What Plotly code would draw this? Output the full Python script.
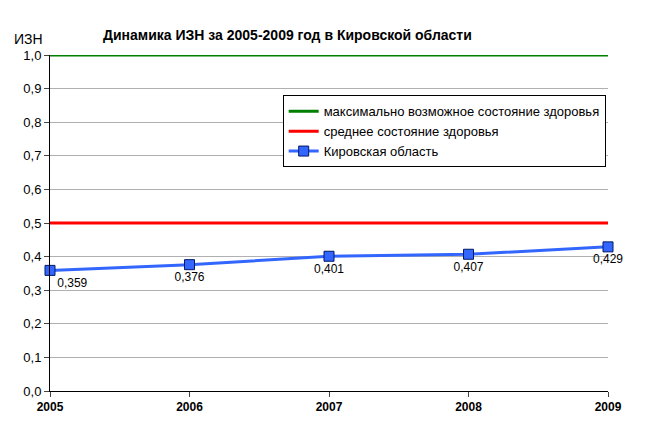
import plotly.graph_objects as go

years = [2005, 2006, 2007, 2008, 2009]
values = [0.359, 0.376, 0.401, 0.407, 0.429]
labels = ["0,359", "0,376", "0,401", "0,407", "0,429"]
label_pos = ["bottom right", "bottom center", "bottom center", "bottom center", "bottom center"]
max_level = [1.0] * 5
avg_level = [0.5] * 5
yticks = [i / 10 for i in range(11)]
yticklabels = [f"{v:.1f}".replace(".", ",") for v in yticks]

fig = go.Figure()
fig.add_trace(go.Scatter(x=years, y=max_level, mode="lines", line=dict(color="#007f00", width=3),
                         name="максимально возможное состояние здоровья", cliponaxis=False))
fig.add_trace(go.Scatter(x=years, y=avg_level, mode="lines", line=dict(color="#ff0000", width=3),
                         name="среднее состояние здоровья"))
fig.add_trace(go.Scatter(x=years, y=values, mode="lines+markers+text", text=labels,
                         textposition=label_pos, textfont=dict(family="Arial", size=12, color="black"),
                         line=dict(color="#3366ff", width=3), cliponaxis=False,
                         marker=dict(symbol="square", size=10, color="#3366ff", line=dict(color="#001a66", width=1)),
                         name="Кировская область"))

fig.update_layout(
    width=648, height=422, paper_bgcolor="white", plot_bgcolor="white",
    margin=dict(l=42, r=48, t=47, b=39),
    font=dict(family="Arial", size=12, color="black"),
    showlegend=True,
    legend=dict(x=0.417, y=0.88, xanchor="left", yanchor="top", bgcolor="white",
                bordercolor="black", borderwidth=1, font=dict(size=13), tracegroupgap=0),
    xaxis=dict(range=[2005, 2009], tickvals=years, ticktext=[f"<b>{y}</b>" for y in years],
               showgrid=False, showline=True, linecolor="black", ticks="outside", automargin=False,
               tickfont=dict(size=12), zeroline=False),
    yaxis=dict(range=[0, 1.0], tickvals=yticks, ticktext=yticklabels, automargin=False,
               showgrid=True, gridcolor="#b0b0b0", showline=True, linecolor="black",
               ticks="outside", zeroline=False, tickfont=dict(size=13)),
    annotations=[
        dict(text="<b>Динамика ИЗН за 2005-2009 год в Кировской области</b>", x=0.091, y=1.0,
             xref="paper", yref="paper", yshift=30, xanchor="left", showarrow=False, font=dict(size=14)),
        dict(text="ИЗН", x=-0.068, y=1.0, xref="paper", yref="paper", yshift=26, xanchor="left",
             showarrow=False, font=dict(size=14)),
    ],
)
fig.write_html("out.html")
